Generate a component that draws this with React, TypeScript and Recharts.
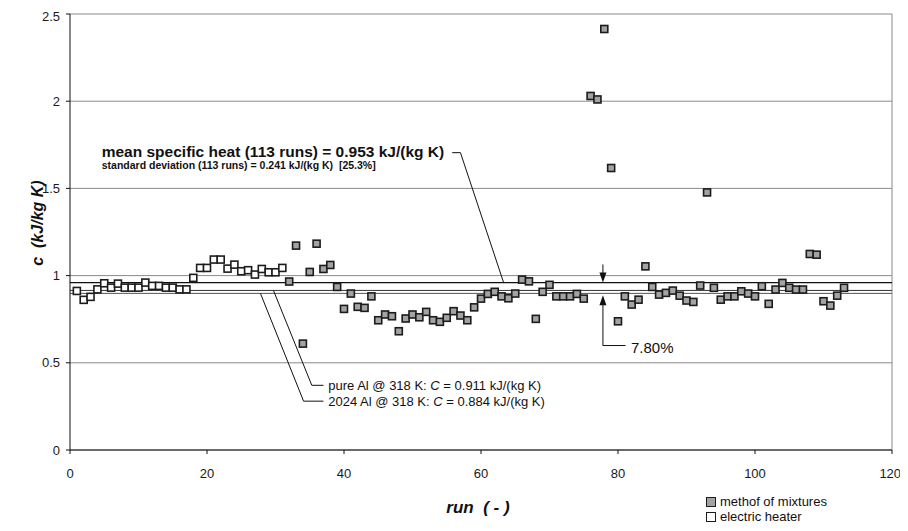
import { ScatterChart, Scatter, XAxis, YAxis, CartesianGrid, ReferenceLine, ReferenceDot } from "recharts"

const FONT = "Arial, 'Liberation Sans', Helvetica, sans-serif"

// electric heater runs (white squares)
const heaterRuns = [1, 2, 3, 4, 5, 6, 7, 8, 9, 10, 11, 12, 13, 14, 15, 16, 17, 18, 19, 20, 21, 22, 23, 24, 25, 26, 27, 28, 29, 30, 31]
const heaterC = [
  0.912, 0.861, 0.878, 0.921, 0.956, 0.931, 0.954, 0.931, 0.931, 0.931, 0.96, 0.941, 0.941, 0.931, 0.931, 0.921,
  0.921, 0.987, 1.044, 1.044, 1.092, 1.092, 1.04, 1.063, 1.025, 1.031, 1.006, 1.038, 1.019, 1.019, 1.044,
]

// method of mixtures runs (grey squares)
const mixtureRuns = [
  32, 33, 34, 35, 36, 37, 38, 39, 40, 41, 42, 43, 44, 45, 46, 47, 48, 49, 50, 51, 52, 53, 54, 55, 56, 57, 58, 59, 60,
  61, 62, 63, 64, 65, 66, 67, 68, 69, 70, 71, 72, 73, 74, 75, 76, 77, 78, 79, 80, 81, 82, 83, 84, 85, 86, 87, 88, 89,
  90, 91, 92, 93, 94, 95, 96, 97, 98, 99, 100, 101, 102, 103, 104, 105, 106, 107, 108, 109, 110, 111, 112, 113,
]
const mixtureC = [
  0.966, 1.172, 0.61, 1.021, 1.183, 1.038, 1.061, 0.935, 0.809, 0.897, 0.821, 0.815, 0.881, 0.744, 0.777, 0.767,
  0.681, 0.754, 0.777, 0.761, 0.792, 0.744, 0.735, 0.758, 0.796, 0.771, 0.744, 0.818, 0.868, 0.895, 0.907, 0.881,
  0.87, 0.897, 0.977, 0.967, 0.752, 0.907, 0.947, 0.881, 0.881, 0.881, 0.895, 0.868, 2.03, 2.01, 2.414, 1.617,
  0.738, 0.881, 0.834, 0.862, 1.053, 0.935, 0.891, 0.901, 0.914, 0.885, 0.857, 0.849, 0.943, 1.477, 0.93, 0.862,
  0.881, 0.881, 0.91, 0.897, 0.881, 0.939, 0.838, 0.92, 0.958, 0.93, 0.92, 0.92, 1.124, 1.12, 0.853, 0.828, 0.885,
  0.93,
]

const xTicks = [0, 20, 40, 60, 80, 100, 120]
const yTicks = [0, 0.5, 1, 1.5, 2, 2.5]

// horizontal levels as drawn: mean, pure Al, 2024 Al
const meanLevel = 0.96
const pureAlLevel = 0.915
const alloyLevel = 0.898

const heater = heaterRuns.map((run, i) => ({ run, c: heaterC[i] }))
const mixtures = mixtureRuns.map((run, i) => ({ run, c: mixtureC[i] }))

const square = (fill: string) => (p: any) => (
  <rect x={p.cx - 3.5} y={p.cy - 3.5} width={7} height={7} fill={fill} stroke="#1c1c1c" strokeWidth={1.6} />
)

const note =
  (content: any, size: number, weight = "normal", baseline = "central") =>
  (p: any) => (
    <text
      x={p.cx}
      y={p.cy}
      dominantBaseline={baseline}
      fontFamily={FONT}
      fontSize={size}
      fontWeight={weight}
      fill="#111"
      style={{ whiteSpace: "pre" }}
    >
      {content}
    </text>
  )

const arrowDown = (p: any) => (
  <path d={`M${p.cx},${p.cy} L${p.cx - 3.5},${p.cy - 10} L${p.cx + 3.5},${p.cy - 10} Z`} fill="#111" />
)
const arrowUp = (p: any) => (
  <path d={`M${p.cx},${p.cy} L${p.cx - 3.5},${p.cy + 10} L${p.cx + 3.5},${p.cy + 10} Z`} fill="#111" />
)

function YLabel({ viewBox }: any) {
  const vb = viewBox || { x: 0, y: 6, width: 62, height: 436 }
  const cx = vb.x + 29
  const cy = vb.y + vb.height / 2 - 9
  return (
    <text
      transform={`translate(${cx},${cy}) rotate(-90)`}
      textAnchor="middle"
      dominantBaseline="central"
      fontFamily={FONT}
      fontSize={16}
      fontWeight="bold"
      fontStyle="italic"
      fill="#111"
      style={{ whiteSpace: "pre" }}
    >
      c  (kJ/kg K)
    </text>
  )
}

function XLabel({ viewBox }: any) {
  const vb = viewBox || { x: 62, y: 442, width: 822, height: 30 }
  return (
    <text
      x={vb.x + vb.width / 2 - 3}
      y={vb.y + 57}
      textAnchor="middle"
      dominantBaseline="central"
      fontFamily={FONT}
      fontSize={17}
      fontWeight="bold"
      fontStyle="italic"
      fill="#111"
      style={{ whiteSpace: "pre" }}
    >
      run  ( - )
    </text>
  )
}

const tickStyle = { fontFamily: FONT, fontSize: 13, fill: "#1a1a1a" }

export default function App() {
  return (
    <div style={{ position: "relative", width: 892, height: 515 }}>
      <ScatterChart width={892} height={515} margin={{ top: 6, right: 8, bottom: 43, left: 0 }}>
        <CartesianGrid vertical={false} stroke="#8a8a8a" />
        <XAxis
          type="number"
          dataKey="run"
          domain={[0, 120]}
          ticks={xTicks}
          height={30}
          tickSize={4}
          tickMargin={15}
          tick={tickStyle}
          stroke="#111"
          label={<XLabel />}
        />
        <YAxis
          type="number"
          dataKey="c"
          domain={[0, 2.5]}
          ticks={yTicks}
          width={62}
          tickSize={4}
          tickMargin={6}
          tick={tickStyle}
          stroke="#111"
          label={<YLabel />}
        />
        <ReferenceLine x={120} stroke="#8a8a8a" />
        <ReferenceLine y={meanLevel} stroke="#111" strokeWidth={1.2} />
        <ReferenceLine y={pureAlLevel} stroke="#333" />
        <ReferenceLine y={alloyLevel} stroke="#555" />

        {/* leader for the mean value note */}
        <ReferenceLine segment={[{ x: 55.8, y: 1.705 }, { x: 57.0, y: 1.705 }]} stroke="#111" />
        <ReferenceLine segment={[{ x: 57.0, y: 1.705 }, { x: 63.3, y: meanLevel }]} stroke="#111" />
        {/* leaders for the pure Al / 2024 Al notes */}
        <ReferenceLine segment={[{ x: 29.7, y: pureAlLevel }, { x: 35.3, y: 0.371 }]} stroke="#111" />
        <ReferenceLine segment={[{ x: 35.3, y: 0.371 }, { x: 37.0, y: 0.371 }]} stroke="#111" />
        <ReferenceLine segment={[{ x: 27.8, y: alloyLevel }, { x: 34.1, y: 0.28 }]} stroke="#111" />
        <ReferenceLine segment={[{ x: 34.1, y: 0.28 }, { x: 37.0, y: 0.28 }]} stroke="#111" />
        {/* 7.80% spread arrows */}
        <ReferenceLine segment={[{ x: 77.8, y: 1.064 }, { x: 77.8, y: 1.0 }]} stroke="#111" />
        <ReferenceLine segment={[{ x: 77.8, y: 0.87 }, { x: 77.8, y: 0.599 }]} stroke="#111" />
        <ReferenceLine segment={[{ x: 77.8, y: 0.599 }, { x: 81.1, y: 0.599 }]} stroke="#111" />
        <ReferenceDot x={77.8} y={meanLevel} shape={arrowDown} />
        <ReferenceDot x={77.8} y={alloyLevel - 0.01} shape={arrowUp} />

        <Scatter data={heater} isAnimationActive={false} shape={square("#ffffff")} />
        <Scatter data={mixtures} isAnimationActive={false} shape={square("#a3a3a3")} />

        <ReferenceDot
          x={4.63}
          y={1.68}
          shape={note("mean specific heat (113 runs) = 0.953 kJ/(kg K)", 15.5, "bold", "alphabetic")}
        />
        <ReferenceDot
          x={4.63}
          y={1.612}
          shape={note("standard deviation (113 runs) = 0.241 kJ/(kg K)  [25.3%]", 10.5, "bold", "alphabetic")}
        />
        <ReferenceDot
          x={37.7}
          y={0.371}
          shape={note(
            <>
              pure Al @ 318 K: <tspan fontStyle="italic">C</tspan> = 0.911 kJ/(kg K)
            </>,
            13
          )}
        />
        <ReferenceDot
          x={37.7}
          y={0.28}
          shape={note(
            <>
              2024 Al @ 318 K: <tspan fontStyle="italic">C</tspan> = 0.884 kJ/(kg K)
            </>,
            13
          )}
        />
        <ReferenceDot x={81.9} y={0.587} shape={note("7.80%", 15)} />
      </ScatterChart>

      <div
        style={{
          position: "absolute",
          left: 698,
          top: 486,
          fontFamily: FONT,
          fontSize: 13,
          lineHeight: "15px",
          color: "#111",
        }}
      >
        <div style={{ display: "flex", alignItems: "center" }}>
          <span style={{ width: 8, height: 8, background: "#a3a3a3", border: "1.5px solid #1c1c1c", marginRight: 4 }} />
          methof of mixtures
        </div>
        <div style={{ display: "flex", alignItems: "center" }}>
          <span style={{ width: 8, height: 8, background: "#fff", border: "1.5px solid #1c1c1c", marginRight: 4 }} />
          electric heater
        </div>
      </div>
    </div>
  )
}
